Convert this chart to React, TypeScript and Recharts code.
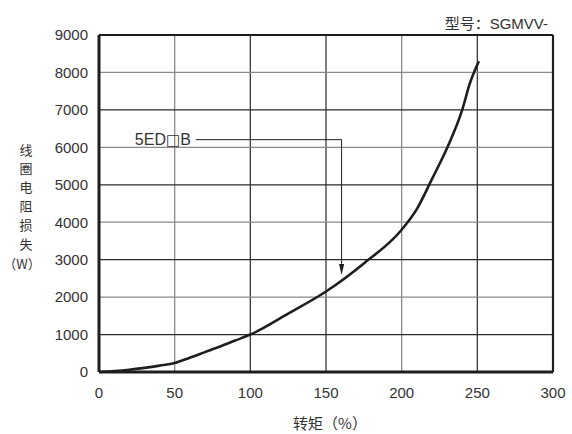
import { LineChart, Line, XAxis, YAxis, ReferenceLine, ReferenceArea, ReferenceDot, Label } from 'recharts';

// torque (%) vs coil resistance loss (W)
const torque = [0, 10, 20, 30, 40, 50, 60, 70, 80, 90, 100, 125, 150, 175, 200, 210, 220, 230, 240, 245, 251];
const loss = [0, 25, 60, 110, 170, 240, 380, 530, 680, 840, 1000, 1560, 2150, 2900, 3800, 4350, 5150, 5980, 7000, 7700, 8300];

const xTicks = [0, 50, 100, 150, 200, 250, 300];
const yTicks = [0, 1000, 2000, 3000, 4000, 5000, 6000, 7000, 8000, 9000];

// grid lines alternate between black and grey in the original
const xGridDark = [100, 150, 250];
const yGridDark = [1000, 3000, 5000, 7000];

const modelTitle = '型号：SGMVV-';
const seriesName = ['5ED', '□', 'B'];
// annotation leader: label end -> corner -> arrow tip
const leaderX = [64, 160.3];
const leaderY = [6205, 2590];
const labelMask = { x1: 12, x2: 61.5, y1: 5840, y2: 6590 };

const yTitle = ['线', '圈', '电', '阻', '损', '失'];
const xTitle = '转矩（%）';

const data = torque.map((t, i) => ({ t, w: loss[i] }));

const FONT = '"Liberation Sans", Arial, "Noto Sans CJK SC", sans-serif';
const CJK = '"Noto Sans CJK SC", sans-serif';
const INK = '#1e1e1e';
const GREY = '#8a8a8a';

const YTitle = (props: any) => {
  const vb = props.viewBox;
  const cx = vb.x - 13;
  return (
    <g>
      {yTitle.map((c, i) => (
        <text key={c} x={cx} y={149 + i * 18.8} textAnchor="middle" dominantBaseline="central"
          fontSize={13} fill="#333" fontFamily={CJK}>
          {c}
        </text>
      ))}
      <text x={cx - 4} y={263} textAnchor="middle" dominantBaseline="central"
        fontSize={13} fill="#333" fontFamily={CJK}>
        （W）
      </text>
    </g>
  );
};

const XTitle = (props: any) => {
  const vb = props.viewBox;
  return (
    <text x={vb.x + vb.width / 2 + 4} y={vb.y + 50} textAnchor="middle" dominantBaseline="central"
      fontSize={15} fill="#333" fontFamily={CJK}>
      {xTitle}
    </text>
  );
};

const Arrow = (props: any) => {
  const { cx, cy } = props;
  return <path d={`M${cx},${cy} L${cx - 2.6},${cy - 11} L${cx + 2.6},${cy - 11} Z`} fill={INK} />;
};

const SeriesLabel = (props: any) => {
  const { cx, cy } = props;
  return (
    <text x={cx - 5} y={cy} textAnchor="end" dominantBaseline="central" fontSize={16}
      fill="#333" fontFamily={FONT}>
      {seriesName[0]}
      <tspan fontFamily='"DejaVu Sans", sans-serif' fontSize={15}>{seriesName[1]}</tspan>
      {seriesName[2]}
    </text>
  );
};

export default function App() {
  return (
    <div style={{ position: 'absolute', left: 0, top: 0, width: 572, height: 434, background: '#fff', fontFamily: FONT }}>
      <div style={{ position: 'absolute', right: 24, top: 12, fontSize: 15, color: '#333', fontFamily: FONT }}>
        {modelTitle}
      </div>
      <LineChart width={572} height={434} data={data} margin={{ top: 35, right: 19, bottom: 32, left: 39 }}>
        <XAxis dataKey="t" type="number" domain={[0, 300]} ticks={xTicks} interval={0}
          axisLine={false} tickLine={false} tickSize={0} tickMargin={15} height={30}
          tick={{ fontSize: 15, fill: '#333', fontFamily: FONT }}>
          <Label content={<XTitle />} />
        </XAxis>
        <YAxis type="number" domain={[0, 9000]} ticks={yTicks} interval={0} width={60}
          axisLine={false} tickLine={false} tickSize={0} tickMargin={11}
          tick={{ fontSize: 15, fill: '#333', fontFamily: FONT }}>
          <Label content={<YTitle />} />
        </YAxis>

        {xTicks.slice(1, -1).map((v) => (
          <ReferenceLine key={'vx' + v} x={v} stroke={xGridDark.includes(v) ? '#3a3a3a' : GREY} strokeWidth={1.3} />
        ))}
        {yTicks.slice(1, -1).map((v) => (
          <ReferenceLine key={'hy' + v} y={v} stroke={yGridDark.includes(v) ? '#2a2a2a' : GREY} strokeWidth={1.3} />
        ))}
        <ReferenceArea x1={labelMask.x1} x2={labelMask.x2} y1={labelMask.y1} y2={labelMask.y2}
          fill="#fff" fillOpacity={1} stroke="none" />

        <ReferenceLine x={0} stroke={INK} strokeWidth={3} />
        <ReferenceLine y={0} stroke={INK} strokeWidth={3} />
        <ReferenceLine x={300} stroke={INK} strokeWidth={2.2} />
        <ReferenceLine y={9000} stroke={INK} strokeWidth={2.2} />

        <ReferenceLine segment={[{ x: leaderX[0], y: leaderY[0] }, { x: leaderX[1], y: leaderY[0] }]}
          stroke={INK} strokeWidth={1} />
        <ReferenceLine segment={[{ x: leaderX[1], y: leaderY[0] }, { x: leaderX[1], y: leaderY[1] + 300 }]}
          stroke={INK} strokeWidth={1} />
        <ReferenceDot x={leaderX[1]} y={leaderY[1]} r={0} shape={<Arrow />} />
        <ReferenceDot x={leaderX[0]} y={leaderY[0]} r={0} shape={<SeriesLabel />} />

        <Line type="monotone" dataKey="w" stroke={INK} strokeWidth={2.6} dot={false} isAnimationActive={false} />
      </LineChart>
    </div>
  );
}
